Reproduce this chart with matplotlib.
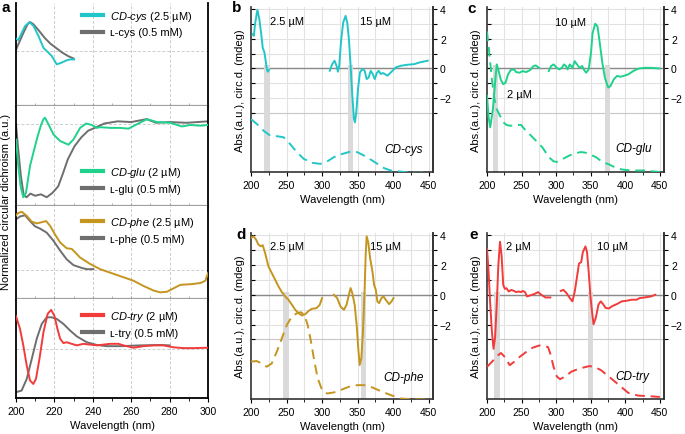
import matplotlib
matplotlib.use("Agg")
import matplotlib.pyplot as plt
from matplotlib.ticker import MultipleLocator

plt.rcParams['font.family'] = ['Liberation Sans', 'DejaVu Sans']
plt.rcParams['font.size'] = 8
plt.rcParams['mathtext.fontset'] = 'custom'
plt.rcParams['mathtext.it'] = 'Liberation Sans:italic'

C_CYS = '#22c6c8'
C_GLU = '#1fd28c'
C_PHE = '#c4951f'
C_TRY = '#f23b3b'
C_GRAY = '#6e6e6e'

# ---------- panel a: normalized CD ----------
cys_cd_x = [200, 201.2, 203, 204.7, 207, 209.2, 211.7, 214.3, 216, 218.6, 221.2, 223.8, 226.4, 228.2, 230.3]
cys_cd_y = [0.43, 0.38, 0.63, 0.86, 1.0, 0.86, 0.52, 0.11, 0.0, -0.17, -0.46, -0.40, -0.32, -0.29, -0.29]
cys_l_x = [200, 202, 204, 206, 207.3, 209, 212, 215, 218, 221, 224, 227, 230]
cys_l_y = [0.05, 0.35, 0.65, 0.92, 1.0, 0.93, 0.7, 0.45, 0.25, 0.1, -0.05, -0.17, -0.26]

glu_cd_x = [200, 201.2, 202.4, 203.8, 205.2, 207.3, 210.8, 212.9, 214.3, 215.1, 216.9, 219.5, 223, 227.3,
            229.9, 233.4, 236.5, 239.5, 242.1, 243.8, 249, 254.3, 258.6, 263, 268.2, 273.4, 280.3, 286.4,
            290.8, 296, 300]
glu_cd_y = [-0.21, -0.57, -0.85, -1.0, -0.94, -0.57, -0.21, -0.02, 0.07, 0.09, 0.0, -0.14, -0.23, -0.28,
            -0.21, -0.05, 0.01, -0.01, -0.05, -0.04, -0.05, -0.05, -0.06, 0.0, 0.07, 0.03, 0.02, -0.03,
            -0.01, -0.02, -0.01]
glu_l_x = [200, 201, 202.5, 204, 205.5, 207.5, 210, 213, 216, 219, 222, 224.5, 227, 230.5, 234, 237.5, 241,
           246, 253, 260, 268, 273, 280, 289, 300]
glu_l_y = [0.0, -0.3, -0.7, -0.97, -1.0, -0.95, -0.98, -0.96, -1.0, -0.94, -0.85, -0.67, -0.48, -0.3,
           -0.18, -0.09, -0.05, 0.01, 0.04, 0.03, 0.07, 0.02, 0.03, 0.02, 0.04]

phe_cd_x = [200, 201.2, 203, 205.6, 208.2, 210.8, 213.4, 215.7, 217.7, 220.3, 223, 226.4, 229, 233.4, 238.6,
            243.8, 249, 256, 261.2, 266.4, 271.7, 275.1, 278.6, 282.1, 285.6, 290.8, 296, 298.6, 300]
phe_cd_y = [0.94, 0.98, 1.0, 0.93, 0.83, 0.80, 0.82, 0.84, 0.76, 0.61, 0.47, 0.37, 0.36, 0.21, 0.10,
            0.01, -0.05, -0.13, -0.19, -0.28, -0.36, -0.39, -0.38, -0.32, -0.26, -0.25, -0.23, -0.19, -0.06]
phe_l_x = [200, 202.1, 204.7, 207.3, 209.9, 212.5, 216, 219.5, 223, 226.4, 229.9, 234.3, 236.9, 240.3]
phe_l_y = [0.87, 0.92, 0.94, 0.84, 0.75, 0.71, 0.64, 0.5, 0.33, 0.18, 0.08, 0.03, 0.01, 0.01]

try_cd_x = [200, 202.1, 203.8, 205.6, 207.3, 209, 210.4, 212.2, 214.3, 216.5, 218.3, 220, 221.6, 223, 224.7,
            226.4, 229, 231.7, 235.1, 238.6, 242.1, 245.6, 249, 253.4, 256, 261.2, 266.4, 271.7, 276.9,
            282.1, 287.3, 292.5, 300]
try_cd_y = [0.84, 0.51, 0.09, -0.43, -0.81, -0.90, -0.77, -0.26, 0.43, 0.90, 1.0, 0.85, 0.51, 0.26, 0.15,
            0.17, 0.13, 0.09, 0.13, 0.11, 0.09, 0.11, 0.13, 0.13, 0.09, 0.03, 0.07, 0.09, 0.09, 0.04,
            0.02, 0.02, 0.03]
try_l_x = [200, 202.9, 205.6, 208.2, 210.8, 213.4, 216, 218.6, 221.2, 224.7, 228.2, 231.7, 236.9, 242.1,
           247.3, 254.3, 264.7, 275.1, 280]
try_l_y = [-1.11, -1.07, -0.77, -0.26, 0.26, 0.64, 0.81, 0.81, 0.77, 0.64, 0.47, 0.32, 0.17, 0.10, 0.07,
           0.07, 0.09, 0.10, 0.09]

# ---------- panels b-e: CD (mdeg) and absorbance (a.u.) ----------
b_lo_x = [202.4, 204, 205.7, 209, 211.8, 214.2, 216.5, 218.9, 220.3, 222.2, 223.6, 225.5]
b_lo_y = [2.31, 2.2, 3.0, 3.96, 3.3, 2.4, 1.4, 1.08, 0.63, -0.04, -0.22, -0.09]
b_hi_x = [310.8, 314.2, 317.5, 320.3, 322.2, 324.1, 326.9, 329.7, 333, 335.4, 337.7, 340.1, 342.5, 344.8,
          346.2, 348.1, 350.5, 353.3, 356.6, 359.9, 362.7, 365.6, 368.4, 371.2, 374.1, 376.9, 379.7,
          382.5, 385.4, 388.2, 392, 396.7, 403.8, 410.8, 420.3, 429.7, 436.8, 441.5, 448.6]
b_hi_y = [-0.16, 0.29, 0.52, 0.18, -0.22, 0.18, 1.98, 3.1, 3.55, 3.1, 1.98, 0.18, -1.84, -3.4, -3.64,
          -2.97, -1.39, -0.27, -0.04, -0.16, -0.72, -0.61, -0.16, -0.38, -0.72, -0.31, -0.16, -0.38,
          -0.31, -0.38, -0.49, -0.27, 0.07, 0.18, 0.25, 0.29, 0.4, 0.45, 0.52]
b_abs_x = [200, 208, 217.5, 226.9, 236.3, 245.8, 252.8, 264.6, 274.1, 285.8, 297.6, 307.1, 316.5, 328.3,
           340.1, 349.5, 359, 368.4, 377.8, 387.3, 396.7, 415.6, 434.4, 450]
b_abs_y = [-3.42, -3.75, -4.2, -4.54, -4.58, -4.65, -4.99, -5.66, -6.11, -6.38, -6.45, -6.29, -6.0, -5.78,
           -5.62, -5.66, -5.89, -6.16, -6.45, -6.74, -6.9, -7.0, -7.06, -7.0]

c_lo_x = [200, 202.3, 204.7, 208.5, 211.7, 214.1, 216.4, 219.7, 223.5, 226.8, 230.5, 234.3, 239, 242.3,
          247, 251.7, 256.4, 262.5, 267.2, 270.5, 275.2]
c_lo_y = [-1.85, -3.3, -3.98, -2.75, -0.96, 0.27, -0.07, -0.74, -1.07, -0.96, -0.4, -0.11, -0.07, -0.25,
          -0.29, -0.18, -0.25, -0.11, 0.16, 0.2, 0.04]
c_hi_x = [289.3, 292.6, 296.3, 301, 304.8, 308.1, 311.4, 314.2, 316.5, 319.8, 323.6, 326.9, 330.2, 333.9,
          337.7, 340, 343.3, 347.1, 350.4, 352.7, 356.5, 359.8, 363.1, 366.8, 370.6, 375.3, 378.6, 383.3,
          388, 392.7, 397.4, 404.4, 411.5, 418.5, 427.9, 437.3, 449.1]
c_hi_y = [-0.18, 0.16, 0.27, 0.04, -0.07, 0.04, 0.27, 0.16, -0.07, 0.27, 0.04, 0.49, 0.27, 0.04, 0.16,
          -0.07, -0.29, -0.07, 1.05, 2.39, 3.02, 2.84, 1.72, 0.38, -0.63, -1.3, -1.19, -0.74, -0.51, -0.56,
          -0.51, -0.4, -0.18, -0.02, 0.04, 0.04, 0.0]
c_abs_x = [200, 202.3, 204.7, 207, 210.8, 214.1, 218.8, 223.5, 228.2, 232.9, 237.6, 244.6, 249.3, 254,
           261.1, 270.5, 279.9, 289.3, 296.3, 301, 310.4, 319.8, 329.2, 336, 343, 357.4, 366.8, 376.2,
           385.6, 395, 409.1, 427.9, 450]
c_abs_y = [2.5, 1.5, 0.38, -0.74, -2.08, -2.75, -3.2, -3.64, -3.82, -3.87, -3.87, -3.82, -3.82, -4.09,
           -4.42, -4.87, -5.32, -5.99, -6.28, -6.32, -6.1, -5.87, -5.72, -5.65, -5.7, -5.99, -6.32, -6.48,
           -6.7, -6.83, -6.9, -6.9, -7.0]

d_lo_x = [200, 203.3, 207.1, 210.4, 213.7, 216.5, 219.8, 224.5, 229.2, 234, 238.7, 243.4, 248.1, 252.8,
          257.5, 262.3, 267, 271.7, 276.4, 281.1, 285.8, 292, 296.7, 300]
d_lo_y = [3.82, 3.93, 3.71, 3.37, 3.26, 3.33, 2.81, 1.91, 1.46, 1.01, 0.56, 0.18, -0.11, -0.34, -0.67,
          -1.01, -1.24, -1.39, -1.30, -1.08, -0.94, -0.9, -0.67, -0.22]
d_hi_x = [316.5, 321.2, 325.9, 330.7, 334.4, 337.7, 340.1, 342.5, 345.8, 348.6, 350.9, 352.8, 355.2, 357.5,
          359.9, 361.3, 362.7, 365.1, 367.5, 370.8, 373.1, 375.5, 377.8, 380.2, 383.5, 386.3, 389.6,
          394.3, 397.6, 400.5]
d_hi_y = [0.0, -0.22, -0.79, -1.01, -0.67, 0.0, 0.45, 0.11, -0.67, -2.02, -3.6, -4.72, -4.27, -2.47, 0.45,
          2.7, 3.93, 3.48, 2.47, 1.57, 0.67, 0.34, -0.45, -0.56, -0.22, -0.11, -0.34, -0.63, -0.45, -0.22]
d_abs_x = [200, 208, 215.1, 222.2, 229.2, 236.3, 243.4, 250.5, 257.5, 264.6, 270.3, 275, 279.7, 284.4,
           289.2, 293.9, 300, 307.1, 316.5, 325.9, 337.7, 349.5, 359, 368.4, 382.5, 396.7, 410.8, 425,
           439.2, 453.3]
d_abs_y = [-4.49, -4.45, -4.61, -4.83, -4.61, -3.82, -2.92, -2.02, -1.46, -1.24, -1.17, -1.35, -2.02,
           -3.15, -4.49, -5.62, -6.4, -6.63, -6.56, -6.4, -6.18, -6.07, -6.07, -6.18, -6.47, -6.74, -6.97,
           -7.01, -7.03, -7.03]

e_lo_x = [200, 202.3, 204.7, 207, 209.4, 211.7, 214.1, 216.4, 218.8, 221.1, 223.5, 225.8, 228.2, 231.5,
          235.2, 239, 242.3, 245.6, 249.3, 251.7, 255, 257.8, 262.5, 268.1, 273.8, 278.5, 284.6, 291.6]
e_lo_y = [3.08, 1.54, -0.66, -2.42, -3.63, -2.86, -0.66, 1.98, 3.56, 2.64, 0.66, 0.4, 0.44, 0.22, 0.33,
          0.26, 0.18, 0.22, 0.18, 0.26, 0.18, -0.11, -0.04, 0.04, 0.18, 0.0, -0.18, -0.18]
e_hi_x = [306.7, 310.4, 315.1, 319.8, 323.6, 326.9, 330.2, 333, 336.3, 338.6, 342.4, 344.7, 347.1, 349.4,
          351.8, 354.1, 357.4, 361.2, 364.5, 367.8, 371.5, 376.2, 380.9, 388, 395, 402.1, 409.1, 416.2,
          420.9, 427.9, 437.3, 443.4]
e_hi_y = [0.26, 0.33, 0.11, -0.22, -0.44, 0.22, 1.21, 2.09, 2.2, 2.86, 3.25, 2.86, 1.54, 0.0, -1.1,
          -1.98, -1.54, -0.66, -0.44, -0.62, -0.88, -0.92, -0.77, -0.62, -0.44, -0.4, -0.33, -0.33, -0.22,
          -0.18, -0.11, 0.0]
e_abs_x = [200, 207, 214.1, 220.2, 225.8, 232.9, 239, 247, 256.4, 265.8, 275.2, 282.2, 288.3, 291.6, 296.3,
           301, 305.7, 312.8, 322.2, 333.9, 348, 355.1, 364.5, 376.2, 390.3, 404.4, 418.5, 432.6, 450]
e_abs_y = [-4.84, -4.51, -4.13, -3.91, -4.18, -4.73, -4.51, -4.18, -3.85, -3.56, -3.41, -3.41, -3.52,
           -3.96, -4.84, -5.49, -5.67, -5.49, -5.16, -4.95, -4.79, -4.84, -5.05, -5.49, -6.04, -6.59, -6.77,
           -6.81, -6.86]

fig = plt.figure(figsize=(6.85, 4.35), dpi=100)
W, H = 685.0, 435.0


def fig_axes(l, t, r, b):
    return fig.add_axes([l / W, 1 - b / H, (r - l) / W, (b - t) / H])


# ---- panel a ----
a_rows = [(4, 107, (-1.9, 1.66)), (107, 207, (-1.12, 0.25)), (207, 300, (-0.505, 1.10)), (300, 399, (-1.26, 1.28))]
a_data = [
    (cys_cd_x, cys_cd_y, cys_l_x, cys_l_y, C_CYS, r'$\it{CD}$-$\it{cys}$ (2.5 µM)', 'ʟ-cys (0.5 mM)', 9.5),
    (glu_cd_x, glu_cd_y, glu_l_x, glu_l_y, C_GLU, r'$\it{CD}$-$\it{glu}$ (2 µM)', 'ʟ-glu (0.5 mM)', 166),
    (phe_cd_x, phe_cd_y, phe_l_x, phe_l_y, C_PHE, r'$\it{CD}$-$\it{phe}$ (2.5 µM)', 'ʟ-phe (0.5 mM)', 216),
    (try_cd_x, try_cd_y, try_l_x, try_l_y, C_TRY, r'$\it{CD}$-$\it{try}$ (2 µM)', 'ʟ-try (0.5 mM)', 310),
]
for i, ((top, bot, yl), (cx, cy, lx, ly, col, lab1, lab2, legtop)) in enumerate(zip(a_rows, a_data)):
    ax = fig_axes(16, top, 208, bot)
    ax.set_xlim(200, 300)
    ax.set_ylim(*yl)
    for xv in [220, 240, 260, 280]:
        ax.axvline(xv, color='#cccccc', lw=0.7, ls=(0, (3, 2)), zorder=0)
    ax.axhline(0, color='#cccccc', lw=0.7, ls=(0, (3, 2)), zorder=0)
    ax.plot(lx, ly, color=C_GRAY, lw=1.4, label=lab2, zorder=2)
    ax.plot(cx, cy, color=col, lw=1.4, label=lab1, zorder=3)
    h, l = ax.get_legend_handles_labels()
    leg = ax.legend(h[::-1], l[::-1], loc='upper left', bbox_to_anchor=(82 / W, 1 - legtop / H),
                    bbox_transform=fig.transFigure, frameon=False, borderpad=0, borderaxespad=0,
                    handlelength=1.9, handletextpad=0.6, labelspacing=0.45, fontsize=8)
    for ln in leg.get_lines():
        ln.set_linewidth(3)
    ax.set_yticks([])
    ax.xaxis.set_major_locator(MultipleLocator(20))
    ax.xaxis.set_minor_locator(MultipleLocator(10))
    ax.spines['top'].set_visible(False)
    ax.spines['left'].set_linewidth(1.3)
    ax.spines['right'].set_linewidth(1.3)
    if i < 3:
        ax.spines['bottom'].set_color('#a0a0a0')
        ax.spines['bottom'].set_linewidth(1.6)
        ax.tick_params(axis='x', which='both', direction='in', length=2.5, color='#a0a0a0', labelbottom=False)
    else:
        ax.spines['bottom'].set_linewidth(1.3)
        ax.tick_params(axis='x', which='major', direction='out', length=3, labelsize=7.5, pad=2.5)
        ax.tick_params(axis='x', which='minor', direction='out', length=2)
        ax.set_xlabel('Wavelength (nm)', fontsize=8, labelpad=3)
fig.text(6 / W, 1 - 201.5 / H, 'Normalized circular dichroism (a.u.)', rotation=90,
         ha='center', va='center', fontsize=8)

# ---- panels b-e ----
panels = [
    (251, 8, 433, 173, C_CYS, b_lo_x, b_lo_y, b_hi_x, b_hi_y, b_abs_x, b_abs_y,
     [(218.5, 226.5), (336.3, 343.9)],
     [(227, 3.2, '2.5 µM'), (353, 3.2, '15 µM')], (387, -5.45, 'CD-cys')),
    (487, 8, 664, 173, C_GLU, c_lo_x, c_lo_y, c_hi_x, c_hi_y, c_abs_x, c_abs_y,
     [(208.5, 216.4), (370.6, 378.6)],
     [(298.4, 3.15, '10 µM'), (228.7, -1.73, '2 µM')], (385.5, -5.4, 'CD-glu')),
    (251, 234, 433, 400, C_PHE, d_lo_x, d_lo_y, d_hi_x, d_hi_y, d_abs_x, d_abs_y,
     [(244.8, 252.8), (354.2, 362.3)],
     [(226.8, 3.29, '2.5 µM'), (367, 3.29, '15 µM')], (386.4, -5.5, 'CD-phe')),
    (487, 234, 664, 400, C_TRY, e_lo_x, e_lo_y, e_hi_x, e_hi_y, e_abs_x, e_abs_y,
     [(210.8, 218.8), (345.7, 353.7)],
     [(227.8, 3.29, '2 µM'), (359.6, 3.29, '10 µM')], (385.5, -5.45, 'CD-try')),
]
for (l, t, r, b, col, lox, loy, hix, hiy, abx, aby, bands, concs, name) in panels:
    ax = fig_axes(l, t, r, b)
    ax.set_xlim(200, 456)
    ax.set_ylim(-7.0, 4.15)
    for xv in range(225, 451, 25):
        ax.axvline(xv, color='#e2e2e2', lw=0.8, zorder=0)
    for yv in range(-3, 5):
        ax.axhline(yv, color='#e2e2e2', lw=0.8, zorder=0)
    ax.axhline(-3, color='#c8c8c8', lw=0.8, zorder=0)
    ax.axhline(0, color='#8a8a8a', lw=1.0, zorder=1)
    for x0, x1 in bands:
        ax.fill_between([x0, x1], -7.0, 0.2, color='#dadada', lw=0, zorder=1)
    ax.plot(lox, loy, color=col, lw=1.4, zorder=3)
    ax.plot(hix, hiy, color=col, lw=1.4, zorder=3)
    ax.plot(abx, aby, color=col, lw=1.4, ls=(0, (5, 3)), zorder=3)
    for tx, ty, s in concs:
        ax.text(tx, ty, s, ha='left', va='center', fontsize=8)
    ax.text(name[0], name[1], name[2], ha='left', va='center', fontsize=8.5, style='italic')
    ax.spines['top'].set_visible(False)
    for sp in ['left', 'right', 'bottom']:
        ax.spines[sp].set_linewidth(1.2)
        ax.spines[sp].set_color('#333333')
    ax.set_yticks(range(-3, 5))
    ax.tick_params(axis='y', direction='in', length=3, labelleft=False)
    ax.xaxis.set_major_locator(MultipleLocator(50))
    ax.xaxis.set_minor_locator(MultipleLocator(25))
    ax.tick_params(axis='x', which='major', direction='out', length=3, labelsize=7.5, pad=2.5)
    ax.tick_params(axis='x', which='minor', direction='out', length=2)
    ax.set_xlabel('Wavelength (nm)', fontsize=8, labelpad=3)
    ax.set_ylabel('Abs.(a.u.), circ.d. (mdeg)', fontsize=8, labelpad=4)
    sec = ax.secondary_yaxis('right')
    sec.set_yticks(range(-3, 5))
    sec.set_yticklabels(['', '\u22122', '', '0', '', '2', '', '4'])
    sec.tick_params(direction='out', length=3, labelsize=7.5, pad=2)
    sec.spines['right'].set_linewidth(1.2)
    sec.spines['right'].set_color('#333333')

for s, x, y in [('a', 1, 1), ('b', 232, 1), ('c', 467, 2), ('d', 236, 228), ('e', 469, 228)]:
    fig.text(x / W, 1 - y / H, s, fontsize=11, fontweight='bold', ha='left', va='top')

fig.savefig('out.png', dpi=100)
